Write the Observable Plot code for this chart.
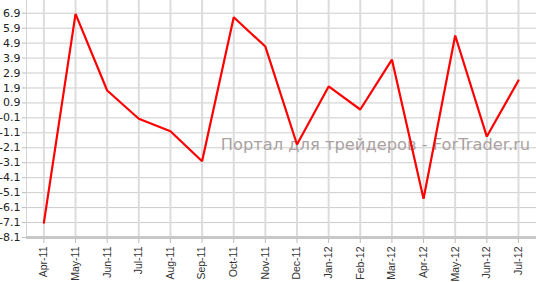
<!DOCTYPE html>
<html><head><meta charset="utf-8">
<script src="https://cdn.jsdelivr.net/npm/d3@7"></script>
<script src="https://cdn.jsdelivr.net/npm/@observablehq/plot@0.6"></script>
<style>
body{margin:0;background:#fff;}
svg{display:block;}
</style>
</head><body>
<div id="chart"></div>
<script>
const months = ["Apr-11","May-11","Jun-11","Jul-11","Aug-11","Sep-11","Oct-11","Nov-11","Dec-11","Jan-12","Feb-12","Mar-12","Apr-12","May-12","Jun-12","Jul-12"];
const values = [-7.1, 6.86, 1.73, -0.16, -0.99, -3.0, 6.63, 4.67, -1.88, 2.0, 0.46, 3.8, -5.51, 5.41, -1.35, 2.4];
const yTicks = [6.9,5.9,4.9,3.9,2.9,1.9,0.9,-0.1,-1.1,-2.1,-3.1,-4.1,-5.1,-6.1,-7.1,-8.1];
const watermark = "Портал для трейдеров - ForTrader.ru";

const data = months.map((m,i)=>({i, m, v: values[i]}));
const idx = months.map((m,i)=>i);
const xMin = -0.55, xMax = 15.57, yMin = -8.1, yMax = 7.75;

const chart = Plot.plot({
  width: 536, height: 282,
  marginLeft: 26, marginRight: 0, marginTop: 0, marginBottom: 45,
  x: {type: "linear", domain: [xMin, xMax], axis: null},
  y: {type: "linear", domain: [yMin, yMax], axis: null},
  marks: [
    Plot.ruleY(yTicks.slice(0, -1), {x1: xMin, x2: xMax, stroke: "#cccccc", strokeWidth: 1}),
    Plot.ruleX(idx, {y1: yMin, y2: yMax, stroke: "#dcdcdc", strokeWidth: 2}),
    Plot.ruleX([xMin], {y1: yMin, y2: yMax, stroke: "#d4d4d4", strokeWidth: 1}),
    Plot.ruleY(yTicks, {x1: xMin - 0.13, x2: xMin, stroke: "#bbbbbb", strokeWidth: 1}),
    Plot.text([watermark], {x: 10.48, y: -2.28, text: d => d, textAnchor: "middle", fill: "#aaa2a2", fontSize: 16.3, fontFamily: "DejaVu Sans", lineAnchor: "bottom"}),
    Plot.line(data, {x: "i", y: "v", stroke: "#ff0000", strokeWidth: 2.2, strokeLinejoin: "miter"}),
    Plot.ruleY([yMin], {x1: xMin, x2: xMax, stroke: "#c8c8c8", strokeWidth: 3}),
    Plot.ruleX(idx, {y1: yMin - 0.1, y2: yMin - 0.4, stroke: "#bbbbbb", strokeWidth: 1}),
    Plot.axisY({ticks: yTicks, tickFormat: d => d.toFixed(1), tickSize: 0, tickPadding: 6, fontSize: 11, fontFamily: "DejaVu Sans", fill: "#222", label: null}),
    Plot.axisX({ticks: idx, tickFormat: i => months[i], tickRotate: -90, tickSize: 0, tickPadding: 9, fontSize: 10.5, fontFamily: "Liberation Sans", fill: "#333", label: null})
  ]
});
document.getElementById("chart").append(chart);
</script>
</body></html>
